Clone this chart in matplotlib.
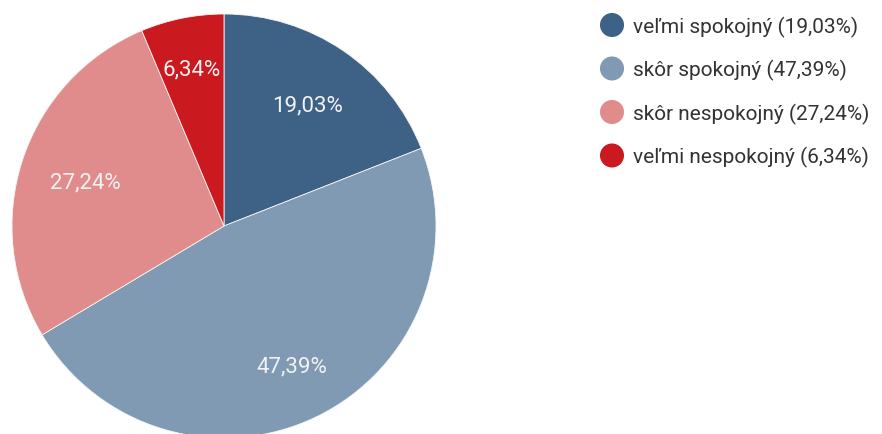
import matplotlib
matplotlib.use("Agg")
import matplotlib.pyplot as plt
import numpy as np

plt.rcParams['font.family'] = ['Roboto', 'DejaVu Sans']

# podiel odpovedí
labels = ["veľmi spokojný", "skôr spokojný", "skôr nespokojný", "veľmi nespokojný"]
values = [19.03, 47.39, 27.24, 6.34]
colors = ["#3e6286", "#7f9ab2", "#e08b8c", "#cb1a1f"]
# vzdialenosť popisu od stredu (násobok polomeru)
label_dist = [0.70, 0.73, 0.69, 0.765]

W, H = 882, 434
CX, CY, R = 224, H - 226, 212
fig = plt.figure(figsize=(W / 100, H / 100), dpi=100)
ax = fig.add_axes([0, 0, 1, 1])

def fmt(v):
    return f"{v:.2f}".replace(".", ",") + "%"

wedges, texts = ax.pie(
    values,
    colors=colors,
    startangle=90,
    counterclock=False,
    center=(CX, CY),
    radius=R,
    wedgeprops=dict(edgecolor="#f4f4f4", linewidth=0.6),
)

for w, v, d in zip(wedges, values, label_dist):
    ang = np.deg2rad((w.theta1 + w.theta2) / 2)
    ax.text(CX + d * R * np.cos(ang), CY + d * R * np.sin(ang), fmt(v),
            color="#f2f2f2", fontsize=16, ha="center", va="center_baseline")

ax.set_xlim(0, W)
ax.set_ylim(0, H)
ax.set_aspect("equal")
ax.axis("off")

# legenda vpravo
for i, (lab, v, c) in enumerate(zip(labels, values, colors)):
    y = H - (25 + i * 43.5)
    ax.scatter([612], [y], s=300, color=c, edgecolors="none", clip_on=False)
    ax.text(633, y, f"{lab} ({fmt(v)})", fontsize=15, color="#333333",
            va="center_baseline", ha="left")

fig.savefig("out.png", dpi=100, facecolor="white")
